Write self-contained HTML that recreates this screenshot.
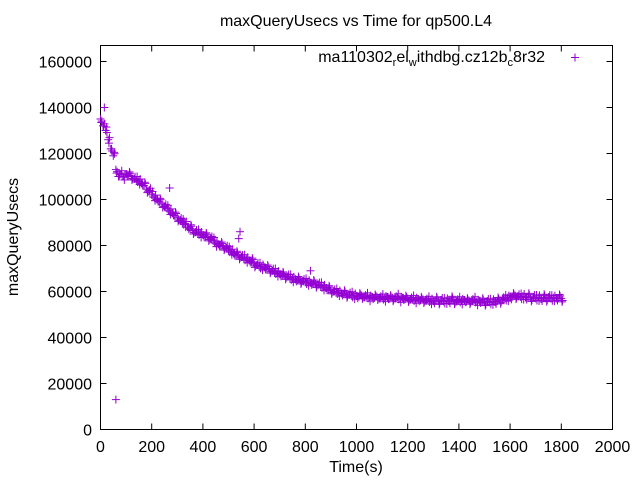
<!DOCTYPE html>
<html><head><meta charset="utf-8"><style>
html,body{margin:0;padding:0;background:#fff;}
svg{display:block;font-family:"Liberation Sans",sans-serif;}
</style></head><body>
<svg id="chart" width="640" height="480">
<rect x="100.5" y="45.5" width="512" height="384" fill="none" stroke="#000"/>
<text x="356" y="26" font-size="16" text-anchor="middle">maxQueryUsecs vs Time for qp500.L4</text>
<text x="356" y="472" font-size="16" text-anchor="middle">Time(s)</text>
<text transform="translate(18,237) rotate(-90)" font-size="16" text-anchor="middle">maxQueryUsecs</text>
<text x="545" y="62" font-size="16" text-anchor="end">ma110302<tspan font-size="11" dy="4">r</tspan><tspan dy="-4">el</tspan><tspan font-size="11" dy="4">w</tspan><tspan dy="-4">ithdbg.cz12b</tspan><tspan font-size="11" dy="4">c</tspan><tspan dy="-4">8r32</tspan></text>
<g id="axes"></g>
<g id="points"></g>
</svg>
<script>
const xTicks=[0,200,400,600,800,1000,1200,1400,1600,1800,2000];
const yTicks=[0,20000,40000,60000,80000,100000,120000,140000,160000];
const times=[0,10,20,30,40,50,60,70,80,90,100,110,120,130,140,150,160,170,180,190,200,210,220,230,240,250,260,270,280,290,300,310,320,330,340,350,360,370,380,390,400,410,420,430,440,450,460,470,480,490,500,510,520,530,540,550,560,570,580,590,600,610,620,630,640,650,660,670,680,690,700,710,720,730,740,750,760,770,780,790,800,810,820,830,840,850,860,870,880,890,900,910,920,930,940,950,960,970,980,990,1000,1010,1020,1030,1040,1050,1060,1070,1080,1090,1100,1110,1120,1130,1140,1150,1160,1170,1180,1190,1200,1210,1220,1230,1240,1250,1260,1270,1280,1290,1300,1310,1320,1330,1340,1350,1360,1370,1380,1390,1400,1410,1420,1430,1440,1450,1460,1470,1480,1490,1500,1510,1520,1530,1540,1550,1560,1570,1580,1590,1600,1610,1620,1630,1640,1650,1660,1670,1680,1690,1700,1710,1720,1730,1740,1750,1760,1770,1780,1790,1800];
const values=[135000,132000,130000,126000,122000,119000,113000,110000,111000,110000,111000,110500,110000,109000,108500,108000,107000,106000,104500,104000,102000,101000,100000,99000,98000,97000,96000,95000,94000,93000,92000,91000,90000,89500,88000,87500,86500,85800,85500,85000,84500,84000,83500,83000,82000,81000,80500,80000,79500,79000,78000,77500,76500,76000,75500,75000,74500,74000,73500,73000,72000,71500,71000,70800,70500,70000,69500,69000,68500,68000,67500,67000,66800,66500,66000,65500,65300,65000,64800,64500,64200,64000,63800,63500,63200,63000,62500,62000,61500,61000,60500,60000,59800,59500,59200,59000,58800,58600,58400,58200,58000,57800,58300,57500,57900,57300,57600,57200,57800,57000,57400,57100,57600,56900,57300,57000,57500,56800,57200,56700,57000,56500,56800,56400,56700,56200,56500,56000,56400,56000,55800,56200,55900,56300,55700,56100,55800,56400,56000,55700,56200,55900,56300,55600,56000,55800,56200,55500,55900,55600,55400,55800,55300,55700,55500,55900,56200,56600,57000,57300,57500,57800,58200,57900,57600,58000,57400,57700,57200,57600,57000,57400,56800,57300,57100,57500,56900,57300,57000,57200,57000];
const outlierTimes=[15,60,270,545,820,540];
const outlierValues=[140000,13000,105000,86000,69000,83000];
const X=v=>100.5+v*512/2000, Y=v=>429.5-v*368/160000;
const NS="http://www.w3.org/2000/svg";
const axes=document.getElementById('axes'), pts=document.getElementById('points');
function line(g,x1,y1,x2,y2,c,w){const l=document.createElementNS(NS,'line');l.setAttribute('x1',x1);l.setAttribute('y1',y1);l.setAttribute('x2',x2);l.setAttribute('y2',y2);l.setAttribute('stroke',c);l.setAttribute('stroke-width',w||1);g.appendChild(l);return l;}
xTicks.forEach(t=>{const x=X(t);
 const g=document.createElementNS(NS,'g');
 
 
 line(g,x,429.5,x,423.5,'#000');line(g,x,45.5,x,51.5,'#000');
 const tx=document.createElementNS(NS,'text');tx.setAttribute('x',x);tx.setAttribute('y',452);tx.setAttribute('font-size','16');tx.setAttribute('text-anchor','middle');tx.textContent=t;g.appendChild(tx);axes.appendChild(g);});
yTicks.forEach(t=>{const y=Y(t);
 const g=document.createElementNS(NS,'g');
 
 
 line(g,100.5,y,106.5,y,'#000');line(g,612.5,y,606.5,y,'#000');
 const tx=document.createElementNS(NS,'text');tx.setAttribute('x',92);tx.setAttribute('y',y+6);tx.setAttribute('font-size','16');tx.setAttribute('text-anchor','end');tx.textContent=t;g.appendChild(tx);axes.appendChild(g);});
function plus(x,y,c){const g=document.createElementNS(NS,'g');
 
 
 line(g,x-4,y,x+4,y,c);line(g,x,y-4,x,y+4,c);pts.appendChild(g);}
const col='#9400d3';
times.forEach((t,i)=>{plus(X(t),Y(values[i]),col);plus(X(t+5),Y(values[i]+(i%2?900:-900)),col);plus(X(t+3),Y(values[i]+(i%3-1)*1500),col);});
outlierTimes.forEach((t,i)=>plus(X(t),Y(outlierValues[i]),col));
const lg=document.createElementNS(NS,'g');


line(lg,571,57.5,579,57.5,col);line(lg,575,53.5,575,61.5,col);document.getElementById('chart').appendChild(lg);
</script>
</body></html>
